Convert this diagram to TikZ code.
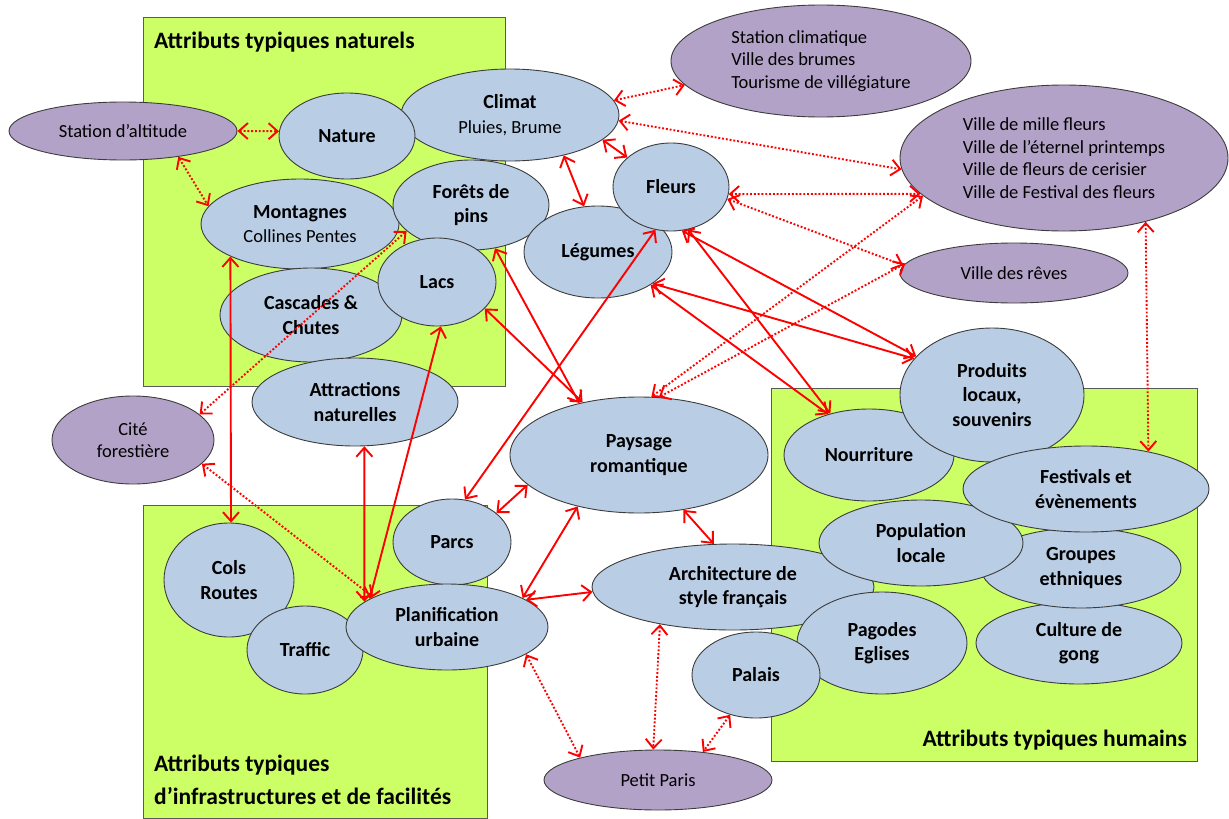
\documentclass[tikz,border=0pt]{standalone}
\usepackage{fontspec}
\setmainfont{Carlito}
\usetikzlibrary{shapes.geometric,arrows.meta}
\definecolor{blu}{HTML}{B9CDE5}
\definecolor{purp}{HTML}{B3A2C7}
\definecolor{grn}{HTML}{CCFF66}
\definecolor{bord}{HTML}{3C3C3C}
\definecolor{gbord}{HTML}{5A5A5A}
\definecolor{rd}{HTML}{FF0000}
\newcommand\rgf{\mdseries\fontsize{18.5}{22.5}\selectfont}
\tikzset{
  gbox/.style={draw=gbord, fill=grn, line width=1pt},
  ttl/.style={font=\bfseries\fontsize{23.5}{29}\selectfont, inner sep=0pt},
  sz/.style 2 args={minimum width=#1, minimum height=#2},
  bub/.style={ellipse, draw=bord, fill=blu, line width=0.9pt, inner sep=0pt, align=center,
    font=\bfseries\fontsize{20}{24.5}\selectfont},
  pur/.style={ellipse, draw=bord, fill=purp, line width=0.9pt, inner sep=0pt, align=center,
    font=\fontsize{18.5}{22.5}\selectfont},
  tipv/.tip={Straight Barb[length=9pt,width=16pt]},
  sol/.style={draw=rd, line width=1.9pt, tipv-tipv},
  dtd/.style={draw=rd, line width=1.9pt, dash pattern=on 1.9pt off 1.9pt, tipv-tipv}
}
\begin{document}
\begin{tikzpicture}[x=1pt,y=-1pt]
\useasboundingbox (0,0) rectangle (1229,819);
% green areas
\draw[gbox] (143,17) rectangle (505,386);
\draw[gbox] (143,505) rectangle (487,818);
\draw[gbox] (771,388) rectangle (1197,761);
\node[ttl, anchor=base west] (t1) at (154,48) {Attributs typiques naturels};
\node[ttl, anchor=base west] (t2a) at (154,771) {Attributs typiques};
\node[ttl, anchor=base west] (t2b) at (154,804) {d’infrastructures et de facilités};
\node[ttl, anchor=base east] (t3) at (1187,746) {Attributs typiques humains};

% purple nodes
\node[pur, sz={228}{58}] (stalt) at (123,131) {Station d’altitude};
\node[pur, sz={162}{88}] (cite) at (133,440) {Cité\\forestière};
\node[pur, sz={300}{112}, align=left] (stclim) at (821,61) {Station climatique\\Ville des brumes\\Tourisme de villégiature};
\node[pur, sz={328}{146}, align=left] (mille) at (1064,158) {Ville de mille fleurs\\Ville de l’éternel printemps\\Ville de fleurs de cerisier\\Ville de Festival des fleurs};
\node[pur, sz={228}{60}] (reves) at (1014,273) {Ville des rêves};
\node[pur, sz={228}{60}] (petit) at (658,780) {Petit Paris};

% natural
\node[bub, sz={218}{92}] (clim) at (510,115) {Climat\\{\rgf Pluies, Brume}};
\node[bub, sz={136}{86}] (nat) at (347,136) {Nature};
\node[bub, sz={198}{90}] (mont) at (300,224) {Montagnes\\{\rgf Collines Pentes}};
\node[bub, sz={156}{90}] (foret) at (471,205) {Forêts de\\pins};
\node[bub, sz={182}{94}] (casc) at (311,315) {Cascades \&\\Chutes};
\node[bub, sz={118}{88}] (lacs) at (437,282) {Lacs};
\node[bub, sz={206}{88}] (attr) at (355,402) {Attractions\\naturelles};
\node[bub, sz={148}{92}] (leg) at (598,252) {Légumes};
\node[bub, sz={116}{88}] (fle) at (671,187) {Fleurs};
\node[bub, sz={258}{116}] (pays) at (639,455) {Paysage\\romantique};

% infrastructures
\node[bub, sz={118}{86}] (parcs) at (452,542) {Parcs};
\node[bub, sz={130}{114}] (cols) at (229,580) {Cols\\Routes};
\node[bub, sz={116}{88}] (traf) at (305,650) {Traffic};
\node[bub, sz={202}{86}] (plan) at (447,627) {Planification\\urbaine};

% human
\node[bub, sz={282}{86}] (archi) at (733,587) {Architecture de\\style français};
\node[bub, sz={170}{102}] (pag) at (882,643) {Pagodes\\Eglises};
\node[bub, sz={128}{86}] (pal) at (756,675) {Palais};
\node[bub, sz={170}{92}] (nourr) at (869,455) {Nourriture};
\node[bub, sz={184}{134}] (prod) at (992,395) {Produits\\locaux,\\souvenirs};
\node[bub, sz={206}{82}] (gong) at (1079,643) {Culture de\\gong};
\node[bub, sz={200}{80}] (grp) at (1081,568) {Groupes\\ethniques};
\node[bub, sz={204}{86}] (pop) at (921,543) {Population\\locale};
\node[bub, sz={246}{86}] (fest) at (1086,489) {Festivals et\\évènements};

% dotted connectors
\draw[dtd] (stalt.0) -- (nat.176);
\draw[dtd] (stalt.-25) -- (mont.169);
\draw[dtd] (clim.8) -- (stclim.190);
\draw[dtd] (clim.-3) -- (mille.184);
\draw[dtd] (fle.-7) -- (mille.194);
\draw[dtd] (fle.-12) -- (reves.176);
\draw[dtd] (pays.78) -- (mille.195);
\draw[dtd] (pays.71) -- (reves.175);
\draw[dtd] (cite.21) -- (foret.202);
\draw[dtd] (cite.-19) -- (plan.158);
\draw[dtd] (plan.-19) -- (petit.164);
\draw[dtd] (archi.207) -- (petit.99);
\draw[dtd] (pal.237) -- (petit.32);
\draw[dtd] (mille.-38) -- (fest.31);

% solid connectors
\draw[sol] (clim.-37) -- (leg.107);
\draw[sol] (clim.-15) -- (fle.146);
\draw[sol] (mont.205) -- (cols.88);
\draw[sol] (lacs.-85) -- (plan.160);
\draw[sol] (attr.-78) -- (plan.163);
\draw[sol] (foret.-61) -- (pays.139);
\draw[sol] (lacs.-29) -- (pays.137);
\draw[sol] (fle.250) -- (parcs.73);
\draw[sol] (fle.-76) -- (prod.153);
\draw[sol] (fle.-68) -- (nourr.133);
\draw[sol] (leg.-30) -- (prod.155);
\draw[sol] (leg.-32) -- (nourr.135);
\draw[sol] (pays.195) -- (parcs.33);
\draw[sol] (pays.220) -- (plan.21);
\draw[sol] (plan.19) -- (archi.182);
\draw[sol] (pays.-51) -- (archi.114);
\end{tikzpicture}
\end{document}
